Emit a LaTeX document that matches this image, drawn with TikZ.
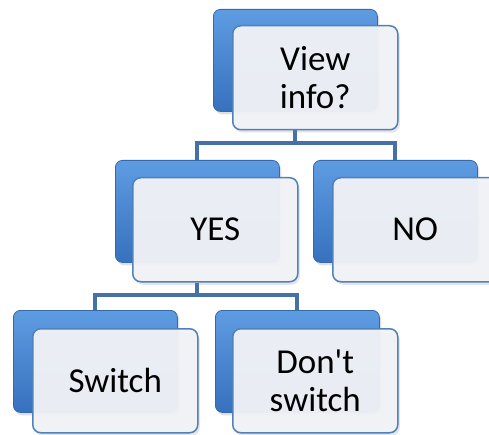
\documentclass[tikz,border=0pt]{standalone}
\usepackage{fontspec}
\setmainfont{Carlito}
\usetikzlibrary{shadows,backgrounds}
\definecolor{bluetop}{HTML}{5E9CE2}
\definecolor{bluebot}{HTML}{3771BE}
\definecolor{blueedge}{HTML}{3568AD}
\definecolor{frontfill}{HTML}{F2F3F7}
\definecolor{frontedge}{HTML}{4F81BD}
\definecolor{connc}{HTML}{4670A8}
\tikzset{
  backbox/.style={anchor=north west, rectangle, rounded corners=7pt,
    minimum width=164pt, minimum height=102pt, inner sep=0pt,
    top color=bluetop, bottom color=bluebot, draw=blueedge, line width=0.8pt,
    drop shadow={opacity=0.25, shadow xshift=2pt, shadow yshift=-3pt}},
  frontbox/.style={anchor=north west, rectangle, rounded corners=8pt,
    minimum width=165pt, minimum height=104pt, inner sep=0pt,
    fill=frontfill, fill opacity=0.95, text opacity=1, draw=frontedge, draw opacity=1,
    line width=1.5pt, align=center, font=\fontsize{35}{38}\selectfont,
    drop shadow={opacity=0.2, shadow xshift=2pt, shadow yshift=-3pt}},
  conn/.style={draw=connc, line width=4pt}
}
\begin{document}
\begin{tikzpicture}[x=1pt,y=-1pt]
\useasboundingbox (0,0) rectangle (489,435);
% top
\node[backbox] (b1) at (213,9) {};
\node[frontbox] (f1) at (232,25) {View\\info?};
% middle
\node[backbox] (b2) at (115,160) {};
\node[frontbox] (f2) at (132,177) {YES};
\node[backbox] (b3) at (313,160) {};
\node[frontbox] (f3) at (332,177) {NO};
% bottom
\node[backbox] (b4) at (13,310) {};
\node[frontbox] (f4) at (32,328) {Switch};
\node[backbox] (b5) at (215,310) {};
\node[frontbox] (f5) at (232,328) {Don\textquotesingle t\\switch};
\begin{pgfonlayer}{background}
\coordinate (j1) at (b1.south |- 0,143);
\coordinate (j2) at (b2.south |- 0,295);
\coordinate (s1) at (b1.south |- f1.south);
\coordinate (s2) at (b2.south |- f2.south);
\draw[conn] (s1) -- (j1);
\draw[conn] (b2.north) |- (j1) -| (b3.north);
\draw[conn] (s2) -- (j2);
\draw[conn] (b4.north) |- (j2) -| (b5.north);
\end{pgfonlayer}
\end{tikzpicture}
\end{document}
